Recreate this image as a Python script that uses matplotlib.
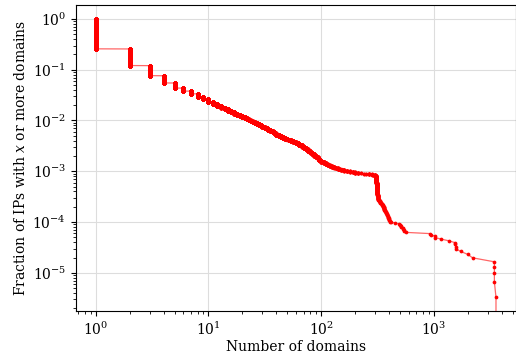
import numpy as np
import matplotlib
matplotlib.use("Agg")
import matplotlib.pyplot as plt

# Distinct "number of domains" values and number of IPs having at least that many
domains = [1, 2, 3, 4, 5, 6, 7, 8, 9, 10, 11, 12, 13, 14, 15, 16, 17, 18, 19, 20,
           21, 22, 23, 24, 25, 26, 27, 28, 29, 30, 31, 32, 33, 34, 35, 36, 37, 38, 39, 40,
           42, 44, 46, 48, 50, 52, 54, 56, 58, 60, 62, 64, 67, 70, 73, 76, 80, 83, 86, 90,
           93, 96, 100, 105, 110, 115, 120, 125, 130, 135, 140, 145, 150, 155, 160, 170,
           180, 190, 200, 212, 224, 238, 252, 265, 280, 290, 299, 303, 306, 308, 310, 312,
           315, 318, 321, 324, 330, 335, 340, 346, 352, 358, 364, 370, 378, 385, 392, 400,
           410, 420, 450, 485, 503, 515, 530, 545, 566, 916, 935, 1028, 1162, 1349, 1524,
           1560, 1730, 1995, 2198, 3436, 3550]
ips_at_least = [304000, 78430, 36780, 23256, 16720, 13254, 11552, 10214, 8907, 7904,
                7123, 6475, 5937, 5475, 5080, 4736, 4432, 4165, 3925, 3712,
                3520, 3344, 3186, 3043, 2909, 2788, 2675, 2572, 2475, 2386,
                2301, 2222, 2140, 2061, 1991, 1921, 1857, 1800, 1742, 1690,
                1590, 1502, 1432, 1377, 1328, 1283, 1240, 1201, 1164, 1131,
                1097, 1064, 994, 930, 872, 821, 760, 711, 669, 614,
                578, 541, 496, 465, 441, 416, 398, 383, 371, 359, 350, 340, 331, 325, 320, 312,
                304, 298, 291, 283, 277, 275, 273, 271, 265, 262, 258, 255, 250, 215, 180, 150,
                125, 105, 92, 84, 80, 76, 73, 71, 66, 61, 57, 53, 49, 45, 41, 37,
                33, 31, 30, 29, 28, 26, 24, 22, 20, 19, 18, 17, 15, 14, 13,
                11, 9, 8, 7, 6, 2]
assert len(domains) == len(ips_at_least)

xlabel = "Number of domains"
ylabel = "Fraction of IPs with $x$ or more domains"

# per-IP data -> complementary CDF
g = np.array(ips_at_least)
n_ips = g - np.append(g[1:], 0)
per_ip = np.sort(np.repeat(domains, n_ips))
N = len(per_ip)
frac = 1.0 - np.arange(1, N + 1) / N

plt.rcParams['font.family'] = ['DejaVu Serif']
plt.rcParams['mathtext.fontset'] = 'dejavuserif'
plt.rcParams['font.size'] = 10

fig = plt.figure(figsize=(5.16, 3.56), dpi=100)
ax = fig.add_axes([0.1467, 0.1258, 0.8533, 0.86])
ax.set_xscale('log')
ax.set_yscale('log')
ax.plot(per_ip, frac, '-', color='red', lw=0.9, alpha=0.6, zorder=2)
ax.plot(per_ip, frac, 'o', color='red', ms=2.7, mew=0, ls='none', zorder=3)
ax.grid(True, which='major', color='#dddddd', lw=0.8)
ax.set_axisbelow(True)
ax.set_xlabel(xlabel, labelpad=1.5)
ax.set_ylabel(ylabel, labelpad=3)
fig.savefig("out.png", dpi=100)
